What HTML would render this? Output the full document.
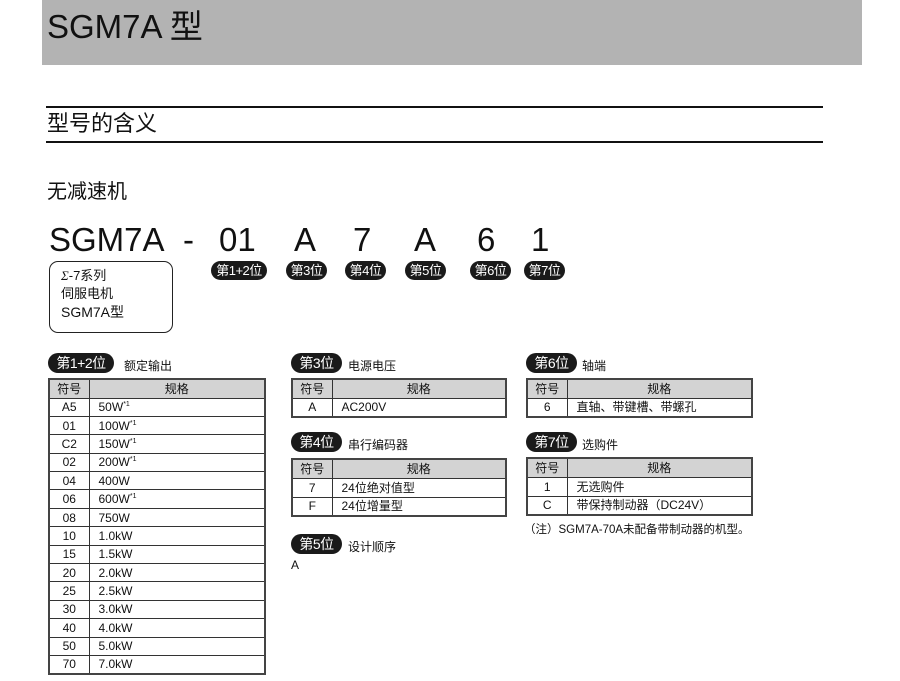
<!DOCTYPE html>
<html><head><meta charset="utf-8"><style>
body{margin:0;width:900px;height:681px;background:#fff;position:relative;overflow:hidden;font-family:"Liberation Sans","Noto Sans CJK SC",sans-serif;color:#111}
.a{position:absolute;white-space:nowrap}
.b{position:absolute;background:#1a1a1a;color:#fff;border-radius:11px;font-size:14px;height:20px;line-height:20px;text-align:center;letter-spacing:-0.5px}
.bs{height:19px;line-height:19px;font-size:13px;border-radius:10px}
table{position:absolute;border-collapse:collapse;font-size:12px;border:2px solid #444}
td{border:1px solid #333;height:17.5px;padding:0 0 0 9px;line-height:16px;box-sizing:border-box}
td.c{text-align:center;padding:0}
tr.h td{background:#d3d3d3;text-align:center;padding:0}
.t1 td{height:18.4px}
.s{font-size:7px;line-height:0;position:relative;top:-5px}
.lab{position:absolute;font-size:12px}
</style></head><body>
<div class="a" style="left:42px;top:0;width:820px;height:65px;background:#b3b3b3"></div>
<div class="a" style="left:47px;top:9px;font-size:33px;line-height:36px">SGM7A 型</div>
<div class="a" style="left:46px;top:106px;width:777px;height:2px;background:#111"></div>
<div class="a" style="left:47px;top:111px;font-size:22px;line-height:26px">型号的含义</div>
<div class="a" style="left:46px;top:141px;width:777px;height:2px;background:#111"></div>
<div class="a" style="left:47px;top:180px;font-size:20px;line-height:24px">无减速机</div>
<div class="a" style="left:49px;top:222px;font-size:33px;line-height:36px">SGM7A</div>
<div class="a" style="left:183px;top:222px;font-size:33px;line-height:36px">-</div>
<div class="a" style="left:219px;top:222px;font-size:33px;line-height:36px">01</div>
<div class="a" style="left:294px;top:222px;font-size:33px;line-height:36px">A</div>
<div class="a" style="left:353px;top:222px;font-size:33px;line-height:36px">7</div>
<div class="a" style="left:414px;top:222px;font-size:33px;line-height:36px">A</div>
<div class="a" style="left:477px;top:222px;font-size:33px;line-height:36px">6</div>
<div class="a" style="left:531px;top:222px;font-size:33px;line-height:36px">1</div>
<div class="b bs" style="left:211px;top:261px;width:56px">第1+2位</div>
<div class="b bs" style="left:286px;top:261px;width:41px">第3位</div>
<div class="b bs" style="left:345px;top:261px;width:41px">第4位</div>
<div class="b bs" style="left:405px;top:261px;width:41px">第5位</div>
<div class="b bs" style="left:470px;top:261px;width:41px">第6位</div>
<div class="b bs" style="left:524px;top:261px;width:41px">第7位</div>
<div class="a" style="left:49px;top:261px;width:122px;height:70px;border:1.5px solid #222;border-radius:9px"></div>
<div class="a" style="left:61px;top:267px;font-size:13px;line-height:18px"><i style="font-family:'Liberation Serif',serif">Σ</i>-7系列<br>伺服电机<br><span style="font-size:14px">SGM7A型</span></div>

<div class="b" style="left:48px;top:353px;width:66px">第1+2位</div><div class="lab" style="left:124px;top:357px">额定输出</div>
<table class="t1" style="left:48px;top:378px;width:218px">
<tr class="h"><td style="width:40px;height:19px">符号</td><td style="height:19px">规格</td></tr>
<tr><td class="c">A5</td><td>50W<span class="s">*1</span></td></tr>
<tr><td class="c">01</td><td>100W<span class="s">*1</span></td></tr>
<tr><td class="c">C2</td><td>150W<span class="s">*1</span></td></tr>
<tr><td class="c">02</td><td>200W<span class="s">*1</span></td></tr>
<tr><td class="c">04</td><td>400W</td></tr>
<tr><td class="c">06</td><td>600W<span class="s">*1</span></td></tr>
<tr><td class="c">08</td><td>750W</td></tr>
<tr><td class="c">10</td><td>1.0kW</td></tr>
<tr><td class="c">15</td><td>1.5kW</td></tr>
<tr><td class="c">20</td><td>2.0kW</td></tr>
<tr><td class="c">25</td><td>2.5kW</td></tr>
<tr><td class="c">30</td><td>3.0kW</td></tr>
<tr><td class="c">40</td><td>4.0kW</td></tr>
<tr><td class="c">50</td><td>5.0kW</td></tr>
<tr><td class="c">70</td><td>7.0kW</td></tr>
</table>

<div class="b" style="left:291px;top:353px;width:51px">第3位</div><div class="lab" style="left:348px;top:357px">电源电压</div>
<table style="left:291px;top:378px;width:216px">
<tr class="h"><td style="width:40px;height:19px">符号</td><td>规格</td></tr>
<tr><td class="c" style="height:19px">A</td><td>AC200V</td></tr></table>

<div class="b" style="left:291px;top:432px;width:51px">第4位</div><div class="lab" style="left:348px;top:436px">串行编码器</div>
<table style="left:291px;top:458px;width:216px">
<tr class="h"><td style="width:40px;height:19px">符号</td><td>规格</td></tr>
<tr><td class="c" style="height:19px">7</td><td>24位绝对值型</td></tr>
<tr><td class="c" style="height:19px">F</td><td>24位增量型</td></tr></table>

<div class="b" style="left:291px;top:534px;width:51px">第5位</div><div class="lab" style="left:348px;top:538px">设计顺序</div>
<div class="lab" style="left:291px;top:558px">A</div>

<div class="b" style="left:526px;top:353px;width:51px">第6位</div><div class="lab" style="left:582px;top:357px">轴端</div>
<table style="left:526px;top:378px;width:227px">
<tr class="h"><td style="width:40px;height:19px">符号</td><td>规格</td></tr>
<tr><td class="c" style="height:19px">6</td><td>直轴、带键槽、带螺孔</td></tr></table>

<div class="b" style="left:526px;top:432px;width:51px">第7位</div><div class="lab" style="left:582px;top:436px">选购件</div>
<table style="left:526px;top:457px;width:227px">
<tr class="h"><td style="width:40px;height:19px">符号</td><td>规格</td></tr>
<tr><td class="c" style="height:19px">1</td><td>无选购件</td></tr>
<tr><td class="c" style="height:19px">C</td><td>带保持制动器（DC24V）</td></tr></table>
<div class="lab" style="left:524px;top:521px;font-size:11.5px">（注）SGM7A-70A未配备带制动器的机型。</div>
</body></html>
